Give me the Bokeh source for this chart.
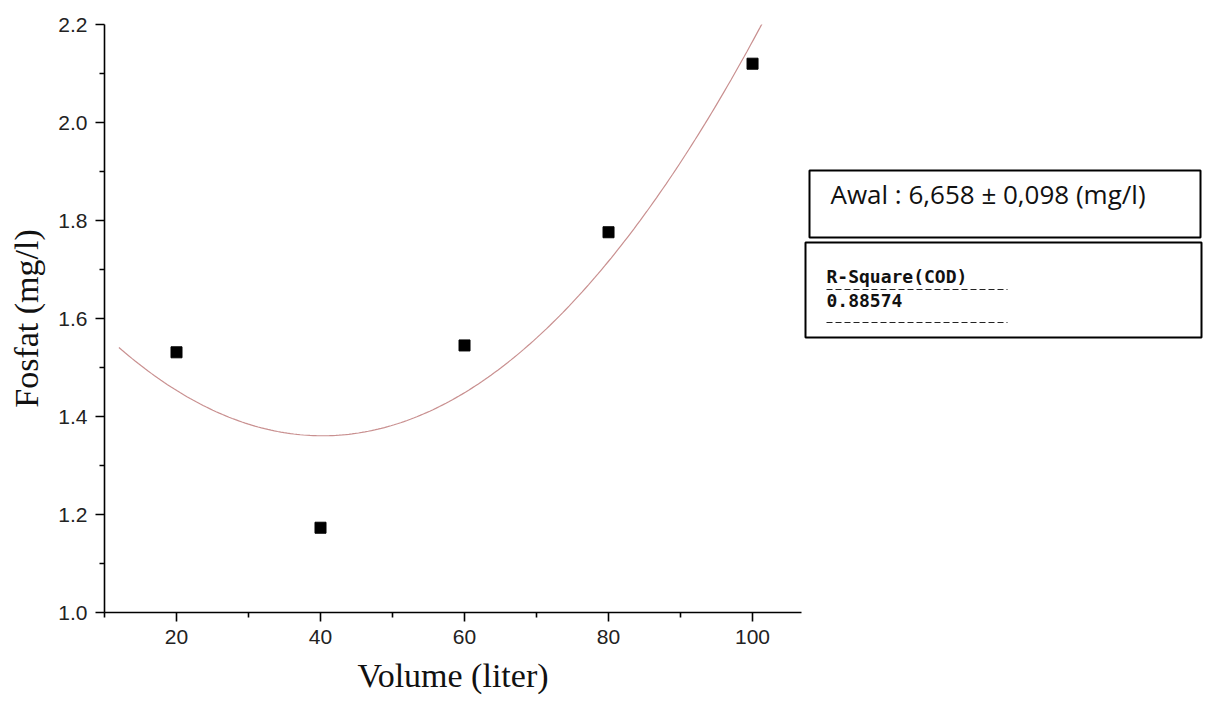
import numpy as np
from bokeh.plotting import figure
from bokeh.layouts import row
from bokeh.models import Range1d, FixedTicker, PrintfTickFormatter
from bokeh.core.properties import value
from bokeh.embed import file_html
from bokeh.resources import INLINE

# ---- data ----
volume = [20, 40, 60, 80, 100]
fosfat = [1.531, 1.173, 1.545, 1.776, 2.120]
x_ticks = [20, 40, 60, 80, 100]
x_minor = [10, 30, 50, 70, 90]
y_ticks = [1.0, 1.2, 1.4, 1.6, 1.8, 2.0, 2.2]
y_minor = [1.1, 1.3, 1.5, 1.7, 1.9, 2.1]
fit_start, fit_end = 12, 101.5
awal_text = "Awal : 6,658 \u00b1 0,098 (mg/l)"
r2_title = "R-Square(COD)"
r2_value = "0.88574"

# quadratic fit from the data
coef = np.polyfit(volume, fosfat, 2)
xf = np.linspace(fit_start, fit_end, 200)
yf = np.polyval(coef, xf)

TOP, BOTTOM = 24, 86
p = figure(width=803, height=698, output_backend="svg", toolbar_location=None,
           x_range=Range1d(10, 106.8), y_range=Range1d(1.0, 2.2),
           min_border_left=104, min_border_right=2, min_border_top=TOP, min_border_bottom=BOTTOM)
p.outline_line_color = None
p.xgrid.visible = False
p.ygrid.visible = False
p.background_fill_color = None
p.border_fill_color = None

p.line(xf, yf, line_color="#c99090", line_width=1.2)
p.scatter(volume, fosfat, marker="square", size=11, fill_color="black", line_color="black")

for ax in (p.xaxis[0], p.yaxis[0]):
    ax.axis_line_width = 1.6
    ax.axis_line_color = "black"
    ax.major_tick_line_width = 1.6
    ax.minor_tick_line_width = 1.6
    ax.major_tick_line_color = "black"
    ax.minor_tick_line_color = "black"
    ax.major_tick_in = 0
    ax.major_tick_out = 9
    ax.minor_tick_in = 0
    ax.minor_tick_out = 5
    ax.major_label_text_font = "Liberation Sans"
    ax.major_label_text_font_size = "21px"
    ax.major_label_text_color = "#222222"
    ax.axis_label_text_font = "Liberation Serif"
    ax.axis_label_text_font_size = "34px"
    ax.axis_label_text_font_style = "normal"
    ax.axis_label_text_color = "#111111"

p.xaxis.ticker = FixedTicker(ticks=x_ticks, minor_ticks=x_minor)
p.yaxis.ticker = FixedTicker(ticks=y_ticks, minor_ticks=y_minor)
p.yaxis.formatter = PrintfTickFormatter(format="%.1f")
p.xaxis.axis_label = "Volume (liter)"
p.yaxis.axis_label = "Fosfat (mg/l)"
p.xaxis.major_label_standoff = 8
p.yaxis.major_label_standoff = 8
p.xaxis.axis_label_standoff = 10
p.yaxis.axis_label_standoff = 10

# ---- side panel with the two boxes (coordinates in page pixels) ----
q = figure(width=405, height=698, output_backend="svg", toolbar_location=None,
           x_range=Range1d(803, 1208), y_range=Range1d(612, 24),
           min_border_left=0, min_border_right=0, min_border_top=TOP, min_border_bottom=BOTTOM,
           x_axis_location=None, y_axis_location=None)
q.outline_line_color = None
q.xgrid.visible = False
q.ygrid.visible = False
q.background_fill_color = None
q.border_fill_color = None

q.quad(left=[809], right=[1200], top=[170], bottom=[237],
       fill_color=None, line_color="black", line_width=2)
q.quad(left=[805], right=[1201], top=[242], bottom=[337],
       fill_color=None, line_color="black", line_width=2)
q.text(x=[830], y=[193], text=[awal_text], text_font=value("Open Sans"),
       text_font_size="26px", text_color="#111111", text_baseline="middle")
q.text(x=[826, 826], y=[276, 300], text=[r2_title, r2_value],
       text_font=value("DejaVu Sans Mono"), text_font_style="bold",
       text_font_size="18px", text_color="#111111", text_baseline="middle")
q.segment(x0=[826, 826], y0=[289, 322], x1=[1007, 1007], y1=[289, 322],
          line_color="#222222", line_width=1.2, line_dash="6 3")

layout = row(p, q, spacing=0)
open("out.html", "w").write(file_html(layout, INLINE))
